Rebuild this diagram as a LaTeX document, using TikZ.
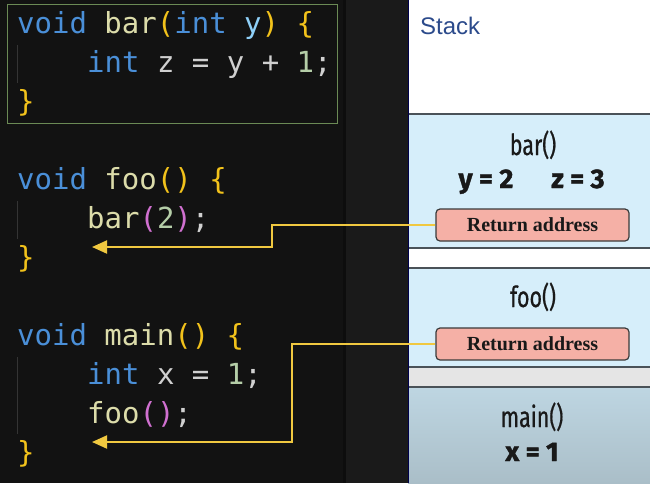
\documentclass[tikz,border=0pt]{standalone}
\usepackage{fontspec}
\usetikzlibrary{arrows.meta}
\setmainfont{Liberation Serif}
\newfontfamily\codefont{DejaVu Sans Mono}
\newfontfamily\stackfont{Liberation Sans}
\newfontfamily\condfont[FakeStretch=0.74,FakeBold=0.6]{Fira Sans}
\newfontfamily\varfont[BoldFeatures={FakeBold=1.4}]{Fira Sans}
\definecolor{codebg}{HTML}{121212}
\definecolor{stripbg}{HTML}{1A1A1A}
\definecolor{kwblue}{HTML}{4A8FD8}
\definecolor{fnyellow}{HTML}{DCDCAA}
\definecolor{bryellow}{HTML}{F2C21B}
\definecolor{brpink}{HTML}{D070D0}
\definecolor{prmblue}{HTML}{8FD0F8}
\definecolor{plaingrey}{HTML}{D0D0D0}
\definecolor{numgreen}{HTML}{B5CEA8}
\definecolor{guidegrey}{HTML}{343434}
\definecolor{boxgreen}{HTML}{6B8A55}
\definecolor{framefill}{HTML}{D6EEFA}
\definecolor{gapgrey}{HTML}{E5E5E5}
\definecolor{frameedge}{HTML}{4A5258}
\definecolor{boxpink}{HTML}{F5B0A6}
\definecolor{boxedge}{HTML}{3A3A3A}
\definecolor{arrowyellow}{HTML}{F0C840}
\definecolor{stackblue}{HTML}{2B4A8B}
\newcommand{\kwd}[1]{\textcolor{kwblue}{#1}}
\newcommand{\fnm}[1]{\textcolor{fnyellow}{#1}}
\newcommand{\bro}[1]{\textcolor{bryellow}{#1}}
\newcommand{\brt}[1]{\textcolor{brpink}{#1}}
\newcommand{\prm}[1]{\textcolor{prmblue}{#1}}
\newcommand{\pln}[1]{\textcolor{plaingrey}{#1}}
\newcommand{\nmb}[1]{\textcolor{numgreen}{#1}}
\tikzset{
  codeline/.style={anchor=base west, inner sep=0pt, font=\codefont\fontsize{29}{29}\selectfont},
  retbox/.style={draw=boxedge, fill=boxpink, rounded corners=4pt, line width=1.2pt, minimum width=193pt, minimum height=32pt, inner sep=0pt, font=\bfseries\fontsize{20}{20}\selectfont, text=black!90},
  retarrow/.style={draw=arrowyellow, line width=2pt, -{Triangle[length=15pt,width=13pt]}},
  framename/.style={anchor=base, inner sep=0pt, font=\condfont\fontsize{29}{29}\selectfont, text=black!90},
  framevar/.style={anchor=base, inner sep=0pt, font=\varfont\bfseries\fontsize{27}{27}\selectfont, text=black!90},
  frameline/.style={draw=frameedge, line width=1.5pt},
  guide/.style={draw=guidegrey, line width=1pt}
}
\begin{document}
\begin{tikzpicture}[x=1pt,y=-1pt]
    \useasboundingbox (0,0) rectangle (650,483);
    \fill[codebg] (0,0) rectangle (343,483);
    \fill[black!95] (343,0) rectangle (346,483);
    \fill[stripbg] (346,0) rectangle (408,483);
    \fill[white] (408,0) rectangle (650,114);
    \fill[framefill] (408,114) rectangle (650,248);
    \fill[white] (408,248) rectangle (650,268);
    \fill[framefill] (408,268) rectangle (650,367);
    \fill[gapgrey] (408,367) rectangle (650,387);
    \shade[top color={rgb,255:red,190;green,214;blue,226}, bottom color={rgb,255:red,170;green,190;blue,200}] (408,387) rectangle (650,483);
    \foreach \y in {114,248,268,367,387}
        \draw[frameline] (408,\y) -- (650,\y);
    \draw[draw=black!70!blue, line width=1pt] (408,0) -- (408,483);

    \draw[guide] (17.5,45) -- (17.5,83);
    \draw[guide] (17.5,201) -- (17.5,239);
    \draw[guide] (17.5,357) -- (17.5,434);
    \draw[draw=boxgreen, line width=1pt] (7,4) rectangle (337,123);

    \node[codeline] (barhead) at (17,33) {\kwd{void} \fnm{bar}\bro{(}\kwd{int} \prm{y}\bro{)} \bro{\{}};
    \node[codeline] (barbody) at (87,72) {\kwd{int} \pln{z = y + }\nmb{1}\pln{;}};
    \node[codeline] (barend) at (17,111) {\bro{\}}};
    \node[codeline] (foohead) at (17,189) {\kwd{void} \fnm{foo}\bro{()} \bro{\{}};
    \node[codeline] (foobody) at (87,228) {\fnm{bar}\brt{(}\nmb{2}\brt{)}\pln{;}};
    \node[codeline] (fooend) at (17,267) {\bro{\}}};
    \node[codeline] (mainhead) at (17,345) {\kwd{void} \fnm{main}\bro{()} \bro{\{}};
    \node[codeline] (mainvar) at (87,384) {\kwd{int} \pln{x = }\nmb{1}\pln{;}};
    \node[codeline] (maincall) at (87,423) {\fnm{foo}\brt{()}\pln{;}};
    \node[codeline] (mainend) at (17,462) {\bro{\}}};

    \node[anchor=base west, inner sep=0pt, text=stackblue, font=\stackfont\fontsize{24}{24}\selectfont] (stacklbl) at (420,34) {Stack};
    \node[framename] (barname) at (533,155) {bar()};
    \node[framevar] (bary) at (486,188) {y = 2};
    \node[framevar] (barz) at (578,188) {z = 3};
    \node[retbox] (ra1) at (532.5,225) {Return address};
    \node[framename] (fooname) at (533,307) {foo()};
    \node[retbox] (ra2) at (532.5,344) {Return address};
    \node[framename] (mainname) at (532,427) {main()};
    \node[framevar] (mainx) at (532,461) {x = 1};

    \coordinate (ret1) at (92,247);
    \coordinate (ret2) at (92,442);
    \draw[retarrow] (ra1.west) -- ++(-163,0) |- (ret1);
    \draw[retarrow] (ra2.west) -- ++(-143,0) |- (ret2);
\end{tikzpicture}
\end{document}
